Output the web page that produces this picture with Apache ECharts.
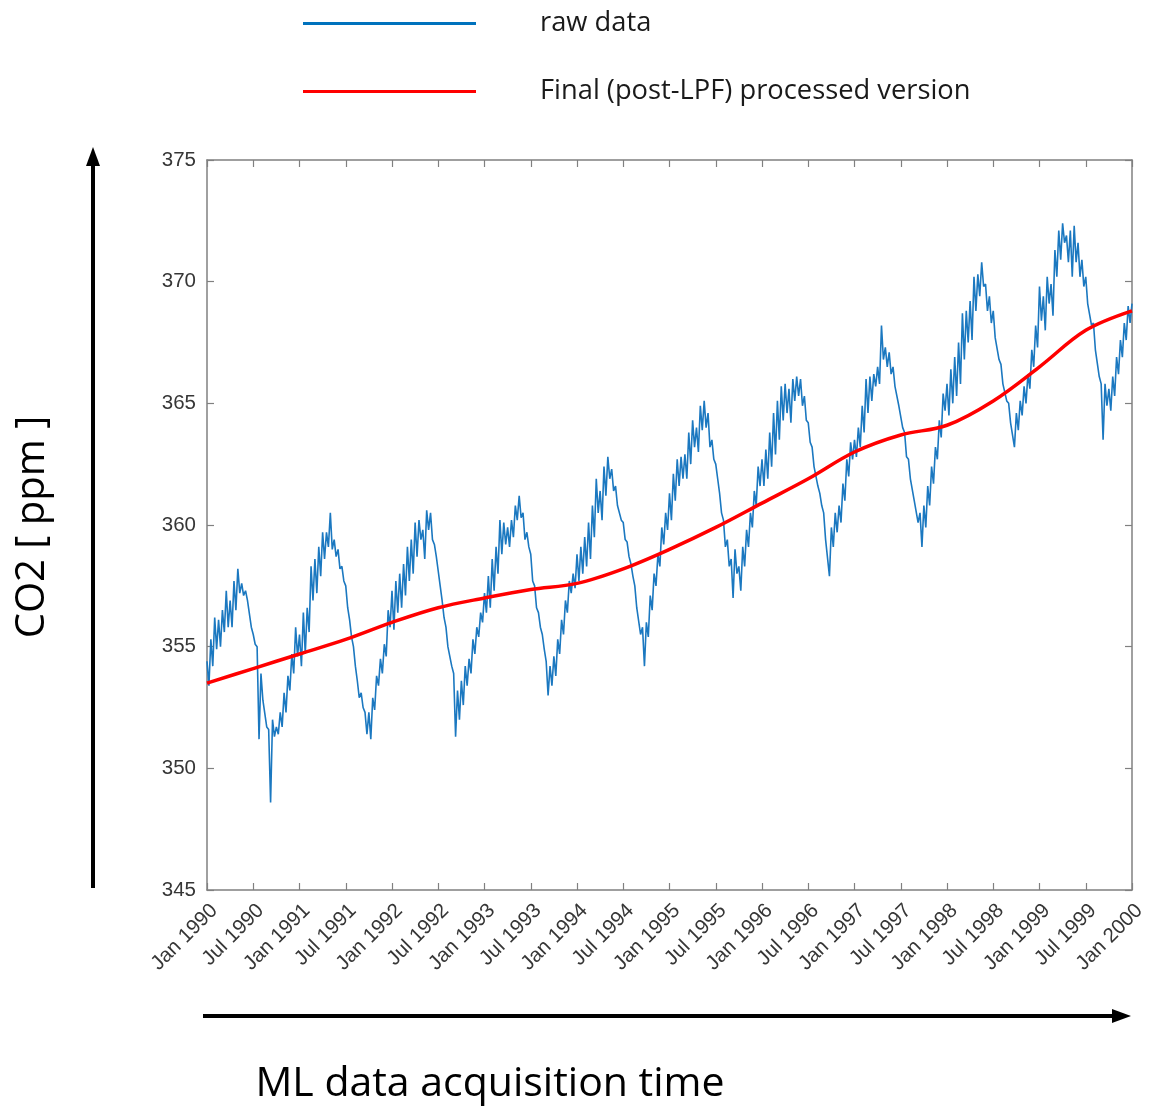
<!DOCTYPE html>
<html>
<head>
<meta charset="utf-8">
<script src="https://cdn.jsdelivr.net/npm/echarts@6/dist/echarts.min.js"></script>
<style>
  html, body { margin: 0; padding: 0; background: #ffffff; }
  #chart { width: 1149px; height: 1106px; }
</style>
</head>
<body>
<div id="chart"></div>
<script>
// Half-year tick labels along the time axis (axis unit: months since Jan 1990)
const tickLabels = [
  'Jan 1990', 'Jul 1990', 'Jan 1991', 'Jul 1991', 'Jan 1992', 'Jul 1992',
  'Jan 1993', 'Jul 1993', 'Jan 1994', 'Jul 1994', 'Jan 1995', 'Jul 1995',
  'Jan 1996', 'Jul 1996', 'Jan 1997', 'Jul 1997', 'Jan 1998', 'Jul 1998',
  'Jan 1999', 'Jul 1999', 'Jan 2000'
];

const years = [1990, 1991, 1992, 1993, 1994, 1995, 1996, 1997, 1998, 1999];

// Raw CO2 record [ppm]: per year, upper and lower excursions of the noisy
// daily signal, sampled every half month (24 values per year)
const hi1990 = [354.4, 355.3, 356.2, 356.1, 356.5, 357.3, 356.9, 357.7, 358.2, 357.6, 357.3, 356.9,
                355.5, 355.0, 353.9, 352.8, 351.6, 352.0, 351.7, 352.3, 353.1, 353.8, 354.7, 355.8];
const lo1990 = [353.4, 354.2, 354.9, 355.0, 355.6, 355.8, 355.8, 356.5, 357.2, 357.1, 356.9, 355.8,
                355.1, 351.2, 352.8, 351.7, 348.6, 351.3, 351.4, 351.7, 352.3, 353.2, 353.9, 354.6];
const hi1991 = [355.5, 356.4, 356.6, 358.3, 358.6, 359.1, 359.7, 359.7, 360.5, 359.4, 359.0, 358.3,
                357.5, 356.1, 355.0, 353.6, 353.1, 352.3, 352.3, 352.9, 353.8, 354.5, 355.1, 356.5];
const lo1991 = [354.2, 354.7, 355.6, 356.9, 357.2, 357.9, 358.6, 359.1, 359.0, 358.7, 358.2, 357.7,
                356.6, 355.4, 354.2, 352.9, 352.5, 351.4, 351.2, 352.4, 353.4, 353.9, 354.6, 355.8];
const hi1992 = [357.3, 357.7, 358.0, 358.4, 359.1, 359.4, 360.1, 360.2, 359.8, 360.6, 360.5, 359.2,
                358.1, 356.9, 355.8, 355.0, 353.9, 353.2, 353.6, 354.2, 354.5, 355.3, 355.8, 356.4];
const lo1992 = [355.7, 356.4, 356.6, 357.1, 357.7, 358.0, 358.7, 359.4, 358.6, 359.8, 359.4, 358.7,
                357.5, 356.2, 355.0, 354.2, 351.3, 352.0, 352.6, 353.4, 353.9, 354.7, 355.4, 356.0];
const hi1993 = [357.2, 357.9, 358.6, 359.1, 360.2, 360.1, 359.9, 360.2, 360.8, 361.2, 360.5, 359.7,
                358.8, 357.5, 356.4, 355.5, 354.4, 354.2, 354.6, 355.3, 356.1, 356.9, 357.7, 358.0];
const lo1993 = [356.4, 356.6, 357.3, 358.0, 358.8, 359.2, 359.1, 359.5, 360.2, 360.3, 359.4, 359.1,
                357.7, 356.6, 355.8, 354.9, 353.0, 353.4, 353.8, 354.7, 355.5, 356.4, 357.2, 357.4];
const hi1994 = [358.8, 359.1, 359.5, 360.1, 360.8, 361.9, 361.4, 362.4, 362.8, 362.3, 361.6, 360.8,
                360.1, 359.3, 358.4, 357.5, 356.6, 355.8, 356.0, 357.1, 358.0, 358.8, 359.9, 360.5];
const lo1994 = [357.7, 358.0, 358.3, 358.6, 359.5, 360.5, 360.2, 361.2, 361.9, 361.4, 360.8, 360.2,
                359.4, 358.7, 357.9, 356.6, 355.5, 354.2, 355.4, 356.5, 357.5, 358.3, 359.2, 359.8];
const hi1995 = [361.3, 362.1, 362.7, 362.8, 362.9, 363.8, 364.3, 364.0, 364.9, 365.1, 364.6, 363.5,
                362.5, 361.3, 360.2, 359.4, 358.6, 359.0, 358.3, 359.1, 359.8, 360.5, 361.4, 362.4];
const lo1995 = [360.2, 361.0, 361.6, 361.9, 361.9, 362.5, 363.2, 363.0, 363.9, 364.0, 363.2, 362.7,
                361.9, 360.5, 359.1, 358.3, 357.0, 358.0, 357.3, 358.3, 359.1, 359.9, 360.8, 361.6];
const hi1996 = [362.7, 363.1, 363.8, 364.6, 365.1, 365.7, 365.8, 365.6, 366.0, 366.1, 366.0, 365.3,
                364.2, 363.2, 362.4, 361.3, 360.5, 359.4, 359.9, 360.5, 360.8, 361.7, 362.7, 363.4];
const lo1996 = [361.6, 361.9, 362.4, 362.9, 363.5, 364.3, 364.6, 364.2, 365.1, 365.3, 364.9, 364.3,
                363.4, 362.4, 361.6, 360.8, 359.4, 357.9, 359.1, 359.7, 360.1, 361.0, 362.0, 362.7];
const hi1997 = [363.5, 364.0, 364.9, 366.0, 366.1, 366.2, 366.5, 368.2, 367.3, 367.1, 366.5, 365.7,
                364.9, 363.8, 362.7, 361.9, 361.0, 360.5, 360.8, 361.6, 362.4, 363.2, 364.3, 365.4];
const lo1997 = [362.8, 363.2, 363.8, 364.6, 365.1, 365.7, 365.8, 366.8, 366.5, 366.2, 365.7, 364.9,
                364.0, 362.8, 361.9, 361.0, 360.1, 359.1, 359.9, 360.8, 361.7, 362.7, 363.6, 364.7];
const hi1998 = [365.8, 366.4, 366.9, 367.5, 368.7, 368.8, 369.2, 370.2, 370.3, 370.8, 369.9, 369.4,
                368.8, 367.7, 366.6, 365.8, 365.0, 364.2, 364.6, 365.1, 365.7, 366.2, 367.2, 368.2];
const lo1998 = [364.5, 365.0, 365.3, 365.8, 366.8, 367.5, 367.6, 368.8, 369.4, 369.8, 368.8, 368.3,
                367.7, 366.8, 365.8, 365.1, 364.2, 363.2, 363.9, 364.5, 365.0, 365.6, 366.5, 367.3];
const hi1999 = [369.8, 369.4, 370.2, 369.9, 371.3, 372.1, 372.4, 371.9, 372.1, 372.3, 371.6, 370.9,
                370.2, 369.1, 368.3, 367.2, 365.8, 365.8, 365.6, 366.1, 366.9, 367.6, 368.3, 369.0];
const lo1999 = [368.4, 368.0, 369.1, 368.6, 370.2, 370.9, 371.6, 370.8, 370.2, 370.8, 370.2, 369.8,
                369.1, 368.2, 367.2, 366.1, 363.5, 364.9, 364.7, 365.3, 366.2, 366.9, 367.6, 368.3];
const rawLast = 369.1; // value at Jan 2000

// Low-pass filtered trend [ppm], one value every half year (Jan 1990 .. Jan 2000)
const lpfValues = [353.5, 354.1, 354.7, 355.3, 356.0, 356.6, 357.0, 357.35, 357.6, 358.2, 359.0,
                   359.9, 360.9, 361.9, 363.0, 363.7, 364.1, 365.1, 366.5, 368.0, 368.8];

const rawHi = [hi1990, hi1991, hi1992, hi1993, hi1994, hi1995, hi1996, hi1997, hi1998, hi1999];
const rawLo = [lo1990, lo1991, lo1992, lo1993, lo1994, lo1995, lo1996, lo1997, lo1998, lo1999];

// Interleave the upper and lower excursions into one time series
const rawSeries = [];
years.forEach((yr, i) => {
  for (let k = 0; k < 24; k++) {
    const m = i * 12 + k * 0.5;
    rawSeries.push([m, rawHi[i][k]]);
    rawSeries.push([m + 0.25, rawLo[i][k]]);
  }
});
rawSeries.push([120, rawLast]);

const lpfSeries = lpfValues.map((v, i) => [i * 6, v]);

const axisGrey = '#808080';
const labelGrey = '#363636';
const tickFont = '"Liberation Sans", Arial, sans-serif';
const uiFont = '"Open Sans", sans-serif';

const chart = echarts.init(document.getElementById('chart'), null, { renderer: 'canvas' });

const legendBase = {
  orient: 'vertical',
  left: 303,
  padding: 0,
  icon: 'rect',
  itemWidth: 173,
  itemHeight: 3,
  selectedMode: false,
  textStyle: { fontFamily: uiFont, fontSize: 27.3, color: '#1a1a1a', padding: [0, 0, 0, 59] }
};

chart.setOption({
  animation: false,
  backgroundColor: '#ffffff',
  legend: [
    Object.assign({}, legendBase, { data: ['raw data'], top: 10 }),
    Object.assign({}, legendBase, { data: ['Final (post-LPF) processed version'], top: 78 })
  ],
  grid: { left: 207, right: 17, top: 160, bottom: 216, containLabel: false },
  xAxis: [
    {
      type: 'value', min: 0, max: 120, interval: 6, position: 'bottom',
      axisLine: { show: true, onZero: false, lineStyle: { color: axisGrey, width: 1.5 } },
      axisTick: { show: true, inside: true, length: 7, lineStyle: { color: axisGrey, width: 1.2 } },
      axisLabel: {
        rotate: 45, margin: 10, verticalAlign: 'top', fontFamily: tickFont,
        fontSize: 20.5, color: labelGrey,
        formatter: v => tickLabels[Math.round(v / 6)] || ''
      },
      splitLine: { show: false }
    },
    {
      type: 'value', min: 0, max: 120, interval: 6, position: 'top',
      axisLine: { show: true, onZero: false, lineStyle: { color: axisGrey, width: 1.5 } },
      axisTick: { show: true, inside: true, length: 7, lineStyle: { color: axisGrey, width: 1.2 } },
      axisLabel: { show: false },
      splitLine: { show: false }
    }
  ],
  yAxis: [
    {
      type: 'value', min: 345, max: 375, interval: 5, position: 'left',
      axisLine: { show: true, onZero: false, lineStyle: { color: axisGrey, width: 1.5 } },
      axisTick: { show: true, inside: true, length: 7, lineStyle: { color: axisGrey, width: 1.2 } },
      axisLabel: { margin: 11, fontFamily: tickFont, fontSize: 20.5, color: labelGrey },
      splitLine: { show: false }
    },
    {
      type: 'value', min: 345, max: 375, interval: 5, position: 'right',
      axisLine: { show: true, onZero: false, lineStyle: { color: axisGrey, width: 1.5 } },
      axisTick: { show: true, inside: true, length: 7, lineStyle: { color: axisGrey, width: 1.2 } },
      axisLabel: { show: false },
      splitLine: { show: false }
    }
  ],
  series: [
    {
      name: 'raw data',
      type: 'line',
      xAxisIndex: 0, yAxisIndex: 0,
      data: rawSeries,
      showSymbol: false,
      sampling: 'none',
      color: '#0072BD',
      lineStyle: { color: '#1b78c0', width: 1.6 },
      z: 2
    },
    {
      name: 'Final (post-LPF) processed version',
      type: 'line',
      xAxisIndex: 0, yAxisIndex: 0,
      data: lpfSeries,
      smooth: 0.35,
      showSymbol: false,
      color: '#ff0000',
      lineStyle: { color: '#ff0000', width: 3.5 },
      z: 3
    }
  ],
  graphic: [
    // vertical arrow beside the CO2 axis
    { type: 'line', shape: { x1: 93, y1: 888, x2: 93, y2: 162 }, style: { stroke: '#000', lineWidth: 4 } },
    { type: 'polygon', shape: { points: [[93, 147], [86, 166], [100, 166]] }, style: { fill: '#000' } },
    // horizontal arrow below the time axis
    { type: 'line', shape: { x1: 203, y1: 1016, x2: 1116, y2: 1016 }, style: { stroke: '#000', lineWidth: 4 } },
    { type: 'polygon', shape: { points: [[1131, 1016], [1112, 1009], [1112, 1023]] }, style: { fill: '#000' } },
    {
      type: 'text', x: 33, y: 527, rotation: Math.PI / 2,
      style: { text: 'CO2 [ ppm ]', fontFamily: uiFont, fontSize: 40, fill: '#000', align: 'center', verticalAlign: 'middle' }
    },
    {
      type: 'text', x: 490, y: 1084,
      style: { text: 'ML data acquisition time', fontFamily: uiFont, fontSize: 41, fill: '#000', align: 'center', verticalAlign: 'middle' }
    }
  ]
});
</script>
</body>
</html>
